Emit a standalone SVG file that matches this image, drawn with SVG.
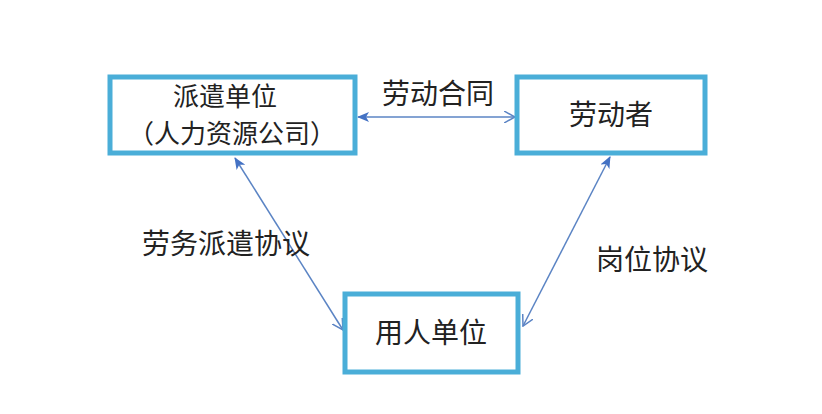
<svg xmlns="http://www.w3.org/2000/svg" width="822" height="414" viewBox="0 0 822 414">
<style>
.box{fill:#fff;stroke:#4aaed8;stroke-width:5}
.t{font-family:"Noto Sans CJK SC",sans-serif;font-size:28px;fill:#222;text-anchor:middle}
.s{font-size:26px}
.c{stroke:#5b84c4;stroke-width:1.5;fill:none;marker-start:url(#f);marker-end:url(#o)}
</style>
<defs>
<marker id="f" viewBox="0 0 12 10" refX="1" refY="5" markerWidth="12" markerHeight="10" markerUnits="userSpaceOnUse" orient="auto"><path d="M12,0 L0,5 L12,10 L9,5 Z" fill="#4472c4"/></marker>
<marker id="o" viewBox="0 0 12 12" refX="11" refY="6" markerWidth="12" markerHeight="12" markerUnits="userSpaceOnUse" orient="auto"><path d="M0,0 L11,6 L0,12" fill="none" stroke="#5b84c4" stroke-width="1.5"/></marker>
</defs>
<rect width="822" height="414" fill="#fff"/>
<g id="connectors">
<line class="c" x1="358" y1="117" x2="515" y2="117"/>
<line class="c" x1="235" y1="158" x2="343" y2="330"/>
<line class="c" x1="610" y1="157" x2="523" y2="326"/>
</g>
<text class="t" x="438" y="104">劳动合同</text>
<text class="t" x="226" y="254">劳务派遣协议</text>
<text class="t" x="652" y="270">岗位协议</text>
<g id="n1"><rect class="box" x="110" y="77" width="245" height="76"/><text class="t s" x="225" y="106">派遣单位</text><text class="t s" x="232" y="143">（人力资源公司）</text></g>
<g id="n2"><rect class="box" x="517" y="77" width="188" height="76"/><text class="t" x="611" y="125">劳动者</text></g>
<g id="n3"><rect class="box" x="345" y="294" width="173" height="78"/><text class="t" x="431" y="343">用人单位</text></g>
</svg>
